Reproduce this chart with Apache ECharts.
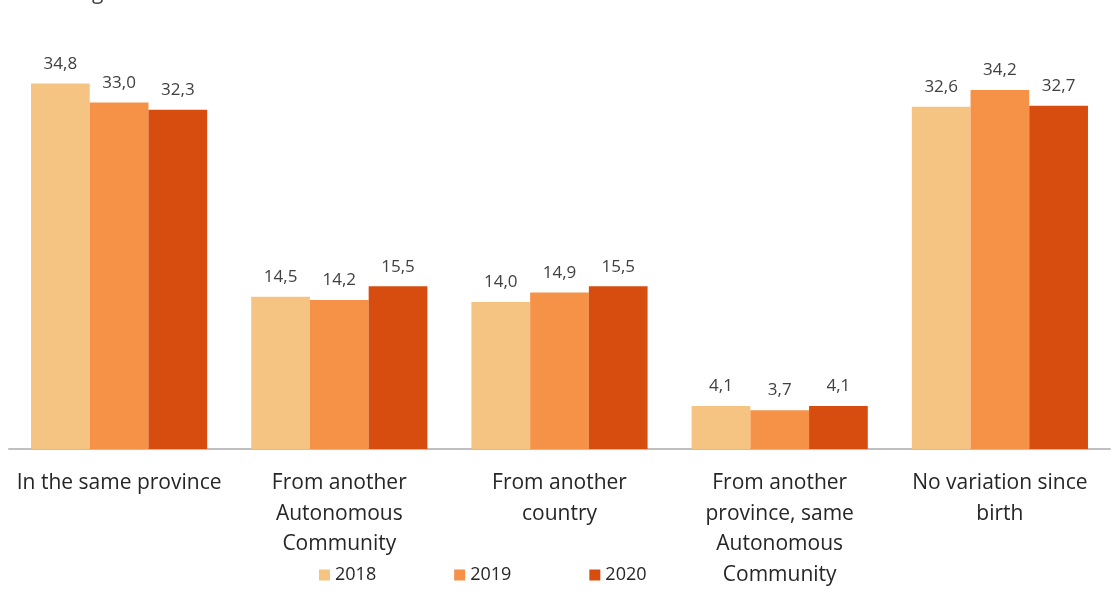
<!DOCTYPE html>
<html>
<head>
<meta charset="utf-8">
<script src="https://cdn.jsdelivr.net/npm/echarts@6/dist/echarts.min.js"></script>
<style>
  html, body { margin: 0; padding: 0; background: #fff; }
  #main { width: 1112px; height: 596px; }
</style>
</head>
<body>
<div id="main"></div>
<script>
const categories = [
  "In the same province",
  "From another\nAutonomous\nCommunity",
  "From another\ncountry",
  "From another\nprovince, same\nAutonomous\nCommunity",
  "No variation since\nbirth"
];
const years = ["2018", "2019", "2020"];
const values2018 = [34.8, 14.5, 14.0, 4.1, 32.6];
const values2019 = [33.0, 14.2, 14.9, 3.7, 34.2];
const values2020 = [32.3, 15.5, 15.5, 4.1, 32.7];

const colors = ["#F5C382", "#F59247", "#D74C0F"];
const font = "'Open Sans', sans-serif";

const chart = echarts.init(document.getElementById("main"));

const makeSeries = (name, data) => ({
  name: name,
  type: "bar",
  data: data,
  barGap: "0%",
  barCategoryGap: "20%",
  label: {
    show: true,
    position: "top",
    distance: 11,
    fontSize: 17,
    fontFamily: font,
    color: "#404040",
    formatter: (p) => p.value.toFixed(1).replace(".", ",")
  }
});

chart.setOption({
  animation: false,
  color: colors,
  title: {
    text: "Percentage",
    left: 0,
    top: -22,
    textStyle: { fontSize: 21, fontWeight: "normal", color: "#404040", fontFamily: font }
  },
  grid: { left: 9, right: 2, top: 29, bottom: 147, containLabel: false },
  legend: {
    data: years,
    left: 314,
    top: 561,
    icon: "rect",
    itemWidth: 11,
    itemHeight: 11,
    itemGap: 78,
    textStyle: { fontSize: 18, color: "#262626", fontFamily: font }
  },
  xAxis: {
    type: "category",
    data: categories,
    axisLine: { lineStyle: { color: "#BFBFBF", width: 2 } },
    axisTick: { show: false },
    axisLabel: {
      interval: 0,
      margin: 19,
      fontSize: 21,
      lineHeight: 30.5,
      color: "#262626",
      fontFamily: font
    }
  },
  yAxis: {
    type: "value",
    min: 0,
    max: 40,
    show: false,
    splitLine: { show: false }
  },
  series: [
    makeSeries(years[0], values2018),
    makeSeries(years[1], values2019),
    makeSeries(years[2], values2020)
  ]
});
</script>
</body>
</html>
